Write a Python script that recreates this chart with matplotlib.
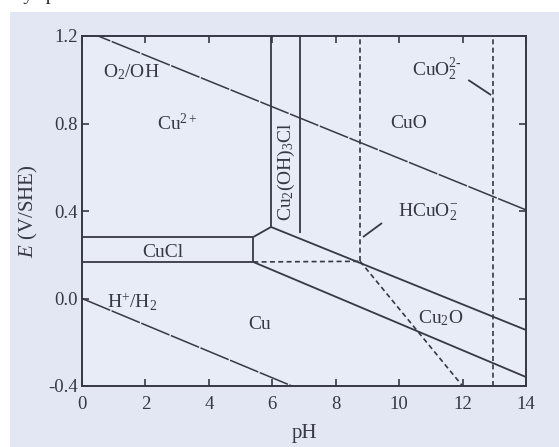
import matplotlib
matplotlib.use("Agg")
import matplotlib.pyplot as plt
from matplotlib.patches import Rectangle

plt.rcParams['font.family'] = ['Liberation Serif', 'DejaVu Serif']
plt.rcParams['mathtext.fontset'] = 'custom'
plt.rcParams['mathtext.rm'] = 'Liberation Serif'
plt.rcParams['mathtext.it'] = 'Liberation Serif:italic'

# Pourbaix diagram of Cu in chloride solution (pH vs E)
ph_ticks = [0, 2, 4, 6, 8, 10, 12, 14]
e_ticks = [-0.4, 0.0, 0.4, 0.8, 1.2]
e_tick_labels = ["-0.4", "0.0", "0.4", "0.8", "1.2"]

# water stability lines
o2_ph = [0.0, 14.0]
o2_e = [1.23, 0.405]
h2_ph = [0.0, 6.62]
h2_e = [0.0, -0.40]

# CuCl band
cucl_upper_ph = [0.0, 5.40]
cucl_upper_e = [0.281, 0.281]
cucl_lower_ph = [0.0, 5.40]
cucl_lower_e = [0.167, 0.167]
cucl_side_ph = [5.40, 5.40]
cucl_side_e = [0.167, 0.281]
cucl_slant_ph = [5.40, 5.96]
cucl_slant_e = [0.281, 0.327]

# Cu2(OH)3Cl column
hyd_left_ph = [5.96, 5.96]
hyd_left_e = [0.327, 1.2]
hyd_right_ph = [6.88, 6.88]
hyd_right_e = [0.300, 1.2]

# CuO / Cu2O and Cu2O / Cu
cuo_cu2o_ph = [5.96, 14.0]
cuo_cu2o_e = [0.327, -0.144]
cu2o_cu_ph = [5.40, 14.0]
cu2o_cu_e = [0.167, -0.359]

# dashed boundaries
dash_h_ph = [5.40, 8.77]
dash_h_e = [0.167, 0.170]
dash_v1_ph = [8.77, 8.77]
dash_v1_e = [0.170, 1.2]
dash_diag_ph = [8.77, 12.0]
dash_diag_e = [0.170, -0.40]
dash_v2_ph = [12.97, 12.97]
dash_v2_e = [-0.40, 1.2]

# leader lines for labels
lead_hcuo2_ph = [9.46, 8.86]
lead_hcuo2_e = [0.345, 0.281]
lead_cuo2_ph = [12.18, 12.90]
lead_cuo2_e = [0.999, 0.930]

labels = ['O$_2$/OH', 'Cu$^{2+}$', 'Cu$_2$(OH)$_3$Cl', 'CuO', 'CuO$_2^{2\u2010}$',
          'HCuO$_2^{-}$', 'CuCl', 'H$^{+}$/H$_2$', 'Cu', 'Cu$_2$O']
label_ph = [1.55, 3.0, 6.45, 10.3, 11.2, 10.9, 2.56, 1.57, 5.6, 11.3]
label_e = [1.035, 0.80, 0.58, 0.80, 1.045, 0.395, 0.212, -0.016, -0.12, -0.09]
label_rot = [0, 0, 90, 0, 0, 0, 0, 0, 0, 0]

ink = '#363846'
paper = '#e2e7f3'

fig = plt.figure(figsize=(5.59, 4.47), dpi=100)
fig.patch.set_facecolor('white')
W, H = 559, 447
fig.patches.append(Rectangle((10 / W, 0), 1 - 10 / W, 1 - 12 / H,
                             transform=fig.transFigure, facecolor=paper,
                             edgecolor='none', zorder=-10))
# running text of the page above the figure (only its descenders show)
fig.text(18 / W, 1.0, 'ly sp', fontsize=14, color='#222222', va='baseline', ha='left')

ax = fig.add_axes([82 / W, 1 - 386 / H, (526 - 82) / W, (386 - 36) / H])
ax.set_facecolor('#e7ecf7')
ax.set_xlim(0, 14)
ax.set_ylim(-0.4, 1.2)

solid = dict(color=ink, lw=1.3, solid_capstyle='butt')
dashed = dict(color=ink, lw=1.2, linestyle=(0, (3, 2)))

ax.plot(o2_ph, o2_e, color=ink, lw=1.1, linestyle=(0, (20, 1)))
ax.plot(h2_ph, h2_e, color=ink, lw=1.1, linestyle=(0, (20, 1)))
for xs, ys in [(cucl_upper_ph, cucl_upper_e), (cucl_lower_ph, cucl_lower_e),
               (cucl_side_ph, cucl_side_e), (cucl_slant_ph, cucl_slant_e),
               (hyd_left_ph, hyd_left_e), (hyd_right_ph, hyd_right_e),
               (cuo_cu2o_ph, cuo_cu2o_e), (cu2o_cu_ph, cu2o_cu_e),
               (lead_hcuo2_ph, lead_hcuo2_e), (lead_cuo2_ph, lead_cuo2_e)]:
    ax.plot(xs, ys, **solid)
for xs, ys in [(dash_h_ph, dash_h_e), (dash_v1_ph, dash_v1_e),
               (dash_diag_ph, dash_diag_e), (dash_v2_ph, dash_v2_e)]:
    ax.plot(xs, ys, **dashed)

for txt, x, y, r in zip(labels, label_ph, label_e, label_rot):
    ax.text(x, y, txt, fontsize=14, color=ink, ha='center', va='center', rotation=r)

ax.set_xticks(ph_ticks)
ax.set_yticks(e_ticks)
ax.set_yticklabels(e_tick_labels)
ax.tick_params(direction='in', length=5, width=1.2, top=True, right=True,
               labelsize=13.5, colors=ink, labelcolor=ink)
ax.tick_params(axis='x', pad=7)
ax.tick_params(axis='y', pad=3)
for s in ax.spines.values():
    s.set_linewidth(1.4)
    s.set_color(ink)

ax.set_xlabel('pH', fontsize=15, color=ink, labelpad=8)
ax.set_ylabel('$E$ (V/SHE)', fontsize=15, color=ink, labelpad=6)

fig.savefig('out.png', dpi=100, facecolor=fig.get_facecolor())
